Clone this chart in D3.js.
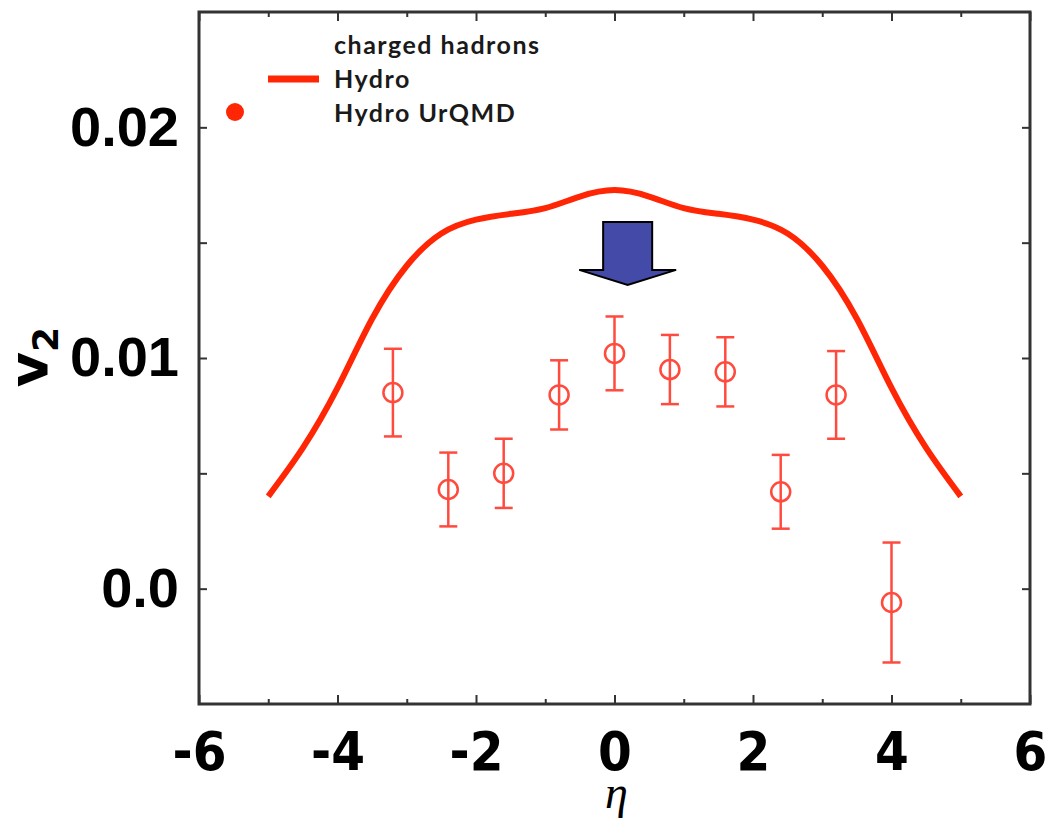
<!DOCTYPE html>
<html>
<head>
<meta charset="utf-8">
<script src="https://cdn.jsdelivr.net/npm/d3@7"></script>
<style>
  body { margin: 0; background: #fff; }
  svg { display: block; }
</style>
</head>
<body>
<svg id="chart" width="1047" height="824"></svg>
<script>
// hydro curve (charged hadrons)
const hydroEta = [-5, -4.5, -4, -3.5, -3, -2.5, -2, -1.5, -1, -0.5, 0, 0.5, 1, 1.5, 2, 2.5, 3, 3.5, 4, 4.5, 5];
const hydroV2 = [0.0040, 0.0061, 0.0087, 0.0117, 0.0140, 0.0154, 0.0160, 0.01625, 0.0165, 0.0170, 0.01728,
                 0.0170, 0.0165, 0.01625, 0.0160, 0.0154, 0.0140, 0.0117, 0.0087, 0.0061, 0.0040];

// hydro + UrQMD points with errors
const urqmdEta = [-3.2, -2.4, -1.6, -0.8, 0, 0.8, 1.6, 2.4, 3.2, 4.0];
const urqmdV2 = [0.0085, 0.0043, 0.0050, 0.0084, 0.0102, 0.0095, 0.0094, 0.0042, 0.0084, -0.0006];
const urqmdErr = [0.0019, 0.0016, 0.0015, 0.0015, 0.0016, 0.0015, 0.0015, 0.0016, 0.0019, 0.0026];

// axis ticks
const xMajor = [-6, -4, -2, 0, 2, 4, 6];
const xMinor = [-5, -3, -1, 1, 3, 5];
const yMajor = [0, 0.01, 0.02];
const yMinor = [0.005, 0.015];
const yLabels = ['0.0', '0.01', '0.02'];

// the blue arrow, in data units
const arrow = { eta: 0.19, top: 0.0159, base: 0.01382, tip: 0.01317, shaft: 0.354, head: 0.70 };

const svg = d3.select('#chart');
const plotLeft = 199, plotRight = 1030, plotTop = 12, plotBottom = 704;

const x = d3.scaleLinear().domain([-6, 6]).range([plotLeft, plotRight]);
const y = d3.scaleLinear().domain([-0.005, 0.025]).range([plotBottom, plotTop]);

const red = '#ff2605';
const pointRed = '#ff4b3e';

// ticks (inward on all four sides)
function tickAxis(axis, pos, values, size) {
  const g = svg.append('g')
    .attr('transform', pos)
    .call(axis.tickValues(values).tickSize(-size).tickFormat(''));
  g.select('.domain').remove();
  g.selectAll('line').attr('stroke', '#333').attr('stroke-width', 2);
  return g;
}
tickAxis(d3.axisBottom(x), `translate(0,${plotBottom})`, xMajor, 9);
tickAxis(d3.axisBottom(x), `translate(0,${plotBottom})`, xMinor, 5);
tickAxis(d3.axisTop(x), `translate(0,${plotTop})`, xMajor, 9);
tickAxis(d3.axisTop(x), `translate(0,${plotTop})`, xMinor, 5);
tickAxis(d3.axisLeft(y), `translate(${plotLeft},0)`, yMajor.concat(yMinor), 8);
tickAxis(d3.axisRight(y), `translate(${plotRight},0)`, yMajor.concat(yMinor), 8);

// tick labels
const xLab = svg.append('g')
  .attr('transform', `translate(0,${plotBottom})`)
  .call(d3.axisBottom(x).tickValues(xMajor).tickSize(0).tickPadding(28).tickFormat(d => String(d)));
xLab.select('.domain').remove();
xLab.selectAll('text')
  .attr('font-family', "'DejaVu Sans Condensed', 'DejaVu Sans', sans-serif")
  .attr('font-stretch', 'condensed')
  .attr('font-weight', 'bold')
  .attr('font-size', 54)
  .attr('fill', '#000');

const yLab = svg.append('g')
  .attr('transform', `translate(${plotLeft},0)`)
  .call(d3.axisLeft(y).tickValues(yMajor).tickSize(0).tickPadding(20).tickFormat((d, i) => yLabels[i]));
yLab.select('.domain').remove();
yLab.selectAll('text')
  .attr('font-family', "'Liberation Sans', Arial, sans-serif")
  .attr('font-weight', 'bold')
  .attr('font-size', 56)
  .attr('fill', '#000');

// frame
svg.append('rect')
  .attr('x', plotLeft).attr('y', plotTop)
  .attr('width', plotRight - plotLeft).attr('height', plotBottom - plotTop)
  .attr('fill', 'none').attr('stroke', '#333').attr('stroke-width', 3);

// axis titles
svg.append('text')
  .attr('x', x(0) + 2).attr('y', 808)
  .attr('text-anchor', 'middle')
  .attr('font-family', "'Liberation Serif', 'DejaVu Serif', serif")
  .attr('font-style', 'italic')
  .attr('font-size', 46)
  .text('η');

const yTitle = svg.append('text')
  .attr('transform', 'translate(47,357) rotate(-90)')
  .attr('text-anchor', 'middle')
  .attr('font-family', "'DejaVu Sans', sans-serif")
  .attr('font-weight', 'bold')
  .attr('font-size', 54);
yTitle.append('tspan').text('v');
yTitle.append('tspan').attr('font-size', 36).attr('dy', 11).text('2');

// hydro curve
const hydro = hydroEta.map((e, i) => [e, hydroV2[i]]);
const line = d3.line().x(d => x(d[0])).y(d => y(d[1])).curve(d3.curveNatural);
svg.append('path')
  .datum(hydro)
  .attr('d', line)
  .attr('fill', 'none')
  .attr('stroke', red)
  .attr('stroke-width', 6);

// points with error bars
const pts = urqmdEta.map((e, i) => ({ eta: e, v: urqmdV2[i], err: urqmdErr[i] }));
const pg = svg.append('g')
  .attr('stroke', pointRed)
  .attr('stroke-width', 2.5)
  .attr('fill', 'none');
const p = pg.selectAll('g').data(pts).enter().append('g');
p.append('line')
  .attr('x1', d => x(d.eta)).attr('x2', d => x(d.eta))
  .attr('y1', d => y(d.v - d.err)).attr('y2', d => y(d.v + d.err));
p.append('line')
  .attr('x1', d => x(d.eta) - 9).attr('x2', d => x(d.eta) + 9)
  .attr('y1', d => y(d.v + d.err)).attr('y2', d => y(d.v + d.err));
p.append('line')
  .attr('x1', d => x(d.eta) - 9).attr('x2', d => x(d.eta) + 9)
  .attr('y1', d => y(d.v - d.err)).attr('y2', d => y(d.v - d.err));
p.append('circle')
  .attr('cx', d => x(d.eta)).attr('cy', d => y(d.v))
  .attr('r', 9.5);

// arrow
const arrowPts = [
  [arrow.eta - arrow.shaft, arrow.top],
  [arrow.eta + arrow.shaft, arrow.top],
  [arrow.eta + arrow.shaft, arrow.base],
  [arrow.eta + arrow.head, arrow.base],
  [arrow.eta, arrow.tip],
  [arrow.eta - arrow.head, arrow.base],
  [arrow.eta - arrow.shaft, arrow.base]
];
svg.append('polygon')
  .attr('points', arrowPts.map(d => x(d[0]) + ',' + y(d[1])).join(' '))
  .attr('fill', '#434aa8')
  .attr('stroke', '#000')
  .attr('stroke-width', 2)
  .attr('stroke-linejoin', 'miter');

// legend
const legend = svg.append('g')
  .attr('font-family', "Lato, 'Open Sans', sans-serif")
  .attr('font-weight', 'bold')
  .attr('font-size', 25)
  .attr('letter-spacing', 1.5)
  .attr('fill', '#1a1a1a');
legend.append('text').attr('x', 334).attr('y', 54).text('charged hadrons');
legend.append('text').attr('x', 334).attr('y', 88).text('Hydro');
legend.append('text').attr('x', 334).attr('y', 122).text('Hydro UrQMD');
legend.append('line')
  .attr('x1', 268).attr('x2', 319).attr('y1', 79).attr('y2', 79)
  .attr('stroke', red).attr('stroke-width', 7);
legend.append('circle')
  .attr('cx', 235).attr('cy', 112).attr('r', 9)
  .attr('fill', red);
</script>
</body>
</html>
